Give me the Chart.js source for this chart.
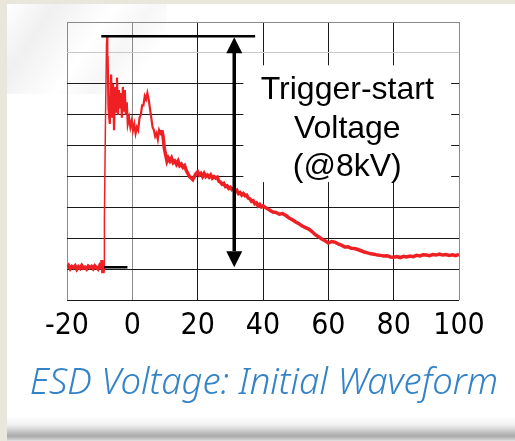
<!DOCTYPE html>
<html>
<head>
<meta charset="utf-8">
<script src="https://cdn.jsdelivr.net/npm/chart.js@4.4.1/dist/chart.umd.min.js"></script>
<style>
  html, body { margin: 0; padding: 0; }
  body {
    width: 515px; height: 441px; overflow: hidden; position: relative;
    background: #e9e6db;
  }
  .sheet {
    position: absolute; left: 7px; top: 4px; width: 508px; height: 437px;
    background:
      linear-gradient(125deg, rgba(255,255,255,0) 0px, rgba(230,230,230,0.6) 40px, rgba(255,255,255,0) 90px, rgba(238,238,238,0.5) 120px, rgba(255,255,255,0) 150px) 0 0 / 160px 90px no-repeat,
      linear-gradient(to bottom, #fff 0px, #fff 412px, #f0f0f0 421px, #c4c4c4 428px, #a9a9a9 432px, #d2d2d2 436px, #e6e6e6 437px);
  }
  canvas { position: absolute; left: 0; top: 0; }
</style>
</head>
<body>
<div class="sheet"></div>
<canvas id="myChart" width="515" height="441"></canvas>
<script>
// time axis (ns) and voltage (grid units)
const timeNs = [
  -20, -19.5, -19, -18.5, -18, -17.5, -17, -16.5, -16, -15.5,
  -15, -14.5, -14, -13.5, -13, -12.5, -12, -11.5, -11, -10.5,
  -10, -9.5, -9.3, -9.0, -8.8, -8.65, -8.55, -8.2, -7.9, -7.75,
  -7.55, -7.3, -6.9, -6.5, -6.2, -5.9, -5.6, -5.3, -5.0, -4.7,
  -4.4, -4.1, -3.8, -3.5, -3.2, -2.9, -2.6, -2.3, -2.0, -1.7,
  -1.4, -1.0, -0.6, -0.2, 0.2, 0.6, 1.0, 1.4, 1.8, 2.2,
  2.6, 3.0, 3.4, 3.8, 4.2, 4.6, 5.0, 5.4, 5.8, 6.2,
  6.6, 7.0, 7.4, 7.8, 8.2, 8.6, 9.0, 9.4, 9.8, 10.2,
  10.6, 11.0, 11.5, 12.0, 12.5, 13.0, 13.5, 14.0, 14.5, 15.0,
  15.5, 16.0, 16.5, 17.0, 17.5, 18.0, 18.5, 19.0, 19.5, 20.0,
  20.5, 21.0, 21.5, 22.0, 22.5, 23.0, 23.5, 24.0, 24.5, 25.0,
  25.5, 26.0, 26.5, 27.0, 27.5, 28.0, 28.5, 29.0, 29.5, 30.0,
  30.5, 31.0, 31.5, 32.0, 32.5, 33.0, 33.5, 34.0, 34.5, 35.0,
  35.5, 36.0, 36.5, 37.0, 37.5, 38.0, 38.5, 39.0, 39.5, 40,
  41, 42, 43, 44, 45, 46, 47, 48, 49, 50,
  51, 52, 53, 54, 55, 56, 57, 58, 59, 60,
  61, 62, 63, 64, 65, 66, 67, 68, 69, 70,
  71, 72, 73, 74, 75, 76, 77, 78, 79, 80,
  81, 82, 83, 84, 85, 86, 87, 88, 89, 90,
  91, 92, 93, 94, 95, 96, 97, 98, 99, 100
]
const voltage = [
  1.04, 1.12, 1.02, 1.09, 1.05, 1.11, 1.00, 1.08, 1.03, 1.12,
  1.04, 1.07, 1.01, 1.10, 1.05, 1.09, 1.02, 1.11, 1.06, 1.01,
  1.12, 1.04, 1.30, 0.88, 1.05, 1.10, 2.70, 6.00, 8.30, 8.55,
  7.90, 6.20, 5.70, 7.30, 5.90, 7.00, 5.50, 6.90, 6.10, 7.20,
  6.00, 6.80, 6.20, 6.70, 5.90, 6.90, 6.10, 6.80, 6.00, 6.40,
  5.70, 5.90, 5.60, 5.80, 5.50, 5.70, 5.40, 5.60, 5.50, 5.90,
  6.00, 6.30, 6.30, 6.60, 6.50, 6.70, 6.50, 6.20, 5.90, 5.60,
  5.50, 5.30, 5.40, 5.20, 5.50, 5.40, 5.50, 5.30, 4.90, 4.70,
  4.50, 4.60, 4.50, 4.60, 4.45, 4.50, 4.40, 4.50, 4.35, 4.40,
  4.30, 4.35, 4.20, 4.10, 4.00, 3.95, 3.90, 4.00, 4.10, 4.15,
  4.05, 4.10, 4.00, 4.10, 4.00, 4.05, 3.98, 4.05, 3.95, 4.00,
  3.95, 3.98, 3.85, 3.82, 3.75, 3.78, 3.68, 3.70, 3.62, 3.65,
  3.58, 3.62, 3.50, 3.55, 3.45, 3.48, 3.40, 3.45, 3.38, 3.40,
  3.30, 3.28, 3.20, 3.22, 3.12, 3.15, 3.05, 3.10, 3.02, 3.05,
  2.98, 2.92, 2.85, 2.84, 2.78, 2.80, 2.74, 2.66, 2.60, 2.53,
  2.47, 2.40, 2.35, 2.30, 2.22, 2.12, 2.05, 1.98, 1.92, 1.85,
  1.90, 1.88, 1.82, 1.78, 1.72, 1.73, 1.68, 1.67, 1.64, 1.60,
  1.56, 1.53, 1.50, 1.49, 1.46, 1.45, 1.43, 1.44, 1.40, 1.39,
  1.41, 1.38, 1.42, 1.40, 1.43, 1.41, 1.45, 1.43, 1.47, 1.46,
  1.44, 1.48, 1.46, 1.49, 1.46, 1.48, 1.45, 1.47, 1.44, 1.48
]
const xTicks = [-20, 0, 20, 40, 60, 80, 100]
const labelLines = ['Trigger-start', 'Voltage', '(@8kV)']
const chartTitle = 'ESD Voltage: Initial Waveform'

// annotation positions in data units
const peakLevel = 8.54
const startLevel = 1.07
const arrowX = 31.2

const annotate = {
  id: 'annotate',
  beforeDatasetsDraw(chart) {
    const { ctx, scales: { x, y } } = chart
    // white label box that hides the grid
    const l = x.getPixelForValue(34), r = x.getPixelForValue(97.6)
    const t = y.getPixelForValue(7.6), b = y.getPixelForValue(3.82)
    ctx.save()
    ctx.fillStyle = '#fff'
    ctx.fillRect(l, t, r - l, b - t)
    ctx.fillStyle = '#000'
    ctx.font = '32px "Liberation Sans", Arial, sans-serif'
    ctx.textAlign = 'center'
    ctx.textBaseline = 'alphabetic'
    const cx = (l + r) / 2
    labelLines.forEach((s, i) => ctx.fillText(s, cx, t + 34 + i * 38.5))
    ctx.restore()
  },
  afterDatasetsDraw(chart) {
    const { ctx, scales: { x, y } } = chart
    const yTop = y.getPixelForValue(peakLevel)
    const yBot = y.getPixelForValue(startLevel)
    ctx.save()
    ctx.strokeStyle = '#000'
    ctx.lineWidth = 2.5
    ctx.beginPath()
    ctx.moveTo(x.getPixelForValue(-9.5), yTop)
    ctx.lineTo(x.getPixelForValue(37.6), yTop)
    ctx.moveTo(x.getPixelForValue(-8.6), yBot)
    ctx.lineTo(x.getPixelForValue(-1.5), yBot)
    ctx.stroke()
    // double arrow
    const ax = x.getPixelForValue(arrowX)
    const hw = 8, hh = 16
    ctx.lineWidth = 3.5
    ctx.beginPath()
    ctx.moveTo(ax, yTop + hh)
    ctx.lineTo(ax, yBot - hh)
    ctx.stroke()
    ctx.fillStyle = '#000'
    ctx.beginPath()
    ctx.moveTo(ax, yTop + 1)
    ctx.lineTo(ax - hw, yTop + hh + 1)
    ctx.lineTo(ax + hw, yTop + hh + 1)
    ctx.closePath()
    ctx.fill()
    ctx.beginPath()
    ctx.moveTo(ax, yBot)
    ctx.lineTo(ax - hw, yBot - hh)
    ctx.lineTo(ax + hw, yBot - hh)
    ctx.closePath()
    ctx.fill()
    ctx.restore()
  }
}

const ctx = document.getElementById('myChart')

const myChart = new Chart(ctx, {
  type: 'line',
  data: {
    datasets: [{
      data: timeNs.map((t, i) => ({ x: t, y: voltage[i] })),
      borderColor: '#ee2024',
      borderWidth: 3.5,
      pointRadius: 0,
      tension: 0,
      fill: false,
      segment: {
        borderWidth: c => {
          const x0 = c.p0.parsed.x
          if (x0 >= -8.7 && x0 < -7.7) return 1.5
          if (x0 >= -7.7 && x0 < 9) return 2.2
          return undefined
        }
      }
    }]
  },
  options: {
    responsive: false,
    devicePixelRatio: 1,
    animation: false,
    layout: { padding: { left: 13, right: 0, top: 22, bottom: 0 } },
    scales: {
      x: {
        type: 'linear',
        min: -20,
        max: 100,
        afterBuildTicks: axis => { axis.ticks = xTicks.map(v => ({ value: v })) },
        ticks: {
          color: '#000',
          padding: 8,
          maxRotation: 0,
          font: { family: '"DejaVu Sans Condensed", "DejaVu Sans", sans-serif', size: 30 }
        },
        grid: {
          drawTicks: false,
          lineWidth: 1,
          color: c => (c.tick && (c.tick.value === -20 || c.tick.value === 0 || c.tick.value === 100)) ? '#8a8a8a' : '#1a1a1a'
        },
        border: { display: false }
      },
      y: {
        min: 0,
        max: 9,
        afterFit: axis => { axis.width = 54 },
        ticks: { display: false, stepSize: 1 },
        grid: {
          drawTicks: false,
          lineWidth: 1,
          color: c => {
            if (!c.tick) return '#1a1a1a'
            if (c.tick.value === 9) return '#8a8a8a'
            if (c.tick.value === 8) return '#c8c8c8'
            return '#1a1a1a'
          }
        },
        border: { display: false }
      },
      // empty right axis, only keeps the right margin
      yRight: {
        position: 'right',
        min: 0,
        max: 9,
        afterFit: axis => { axis.width = 56 },
        ticks: { display: false },
        grid: { display: false },
        border: { display: false }
      }
    },
    plugins: {
      legend: { display: false },
      tooltip: { enabled: false },
      title: {
        display: true,
        position: 'bottom',
        text: chartTitle,
        color: '#3383c8',
        font: { family: '"Noto Sans", sans-serif', style: 'italic', weight: 300, size: 36.5 },
        padding: { top: 10, bottom: 35 }
      }
    }
  },
  plugins: [annotate]
})
</script>
</body>
</html>
